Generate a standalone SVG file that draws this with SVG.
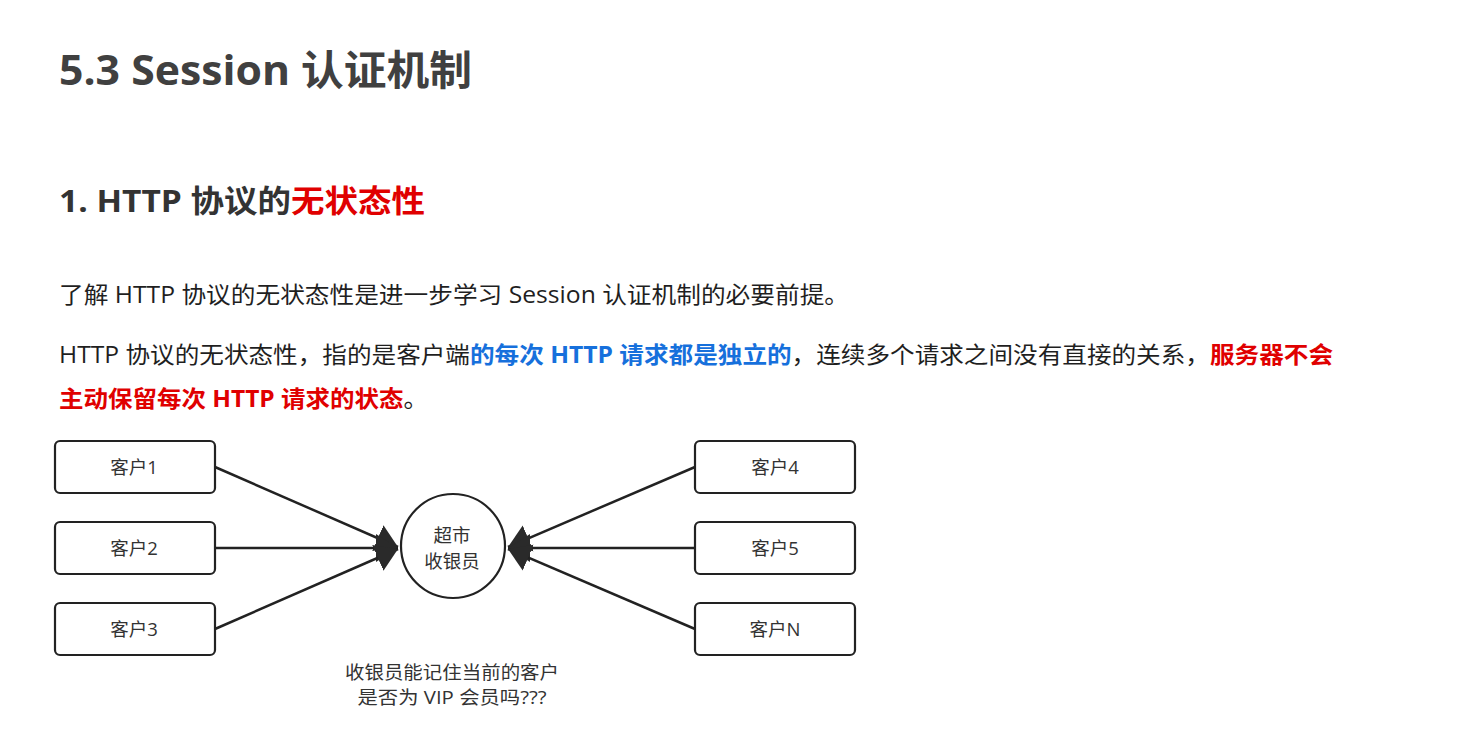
<svg xmlns="http://www.w3.org/2000/svg" width="1463" height="749" viewBox="0 0 1463 749">
<style>
.h1{font-family:"Open Sans","Noto Sans CJK SC",sans-serif;font-weight:700;font-size:41px;fill:#404040}
.h2{font-family:"Open Sans","Noto Sans CJK SC",sans-serif;font-weight:700;font-size:31px;fill:#333}
.p{font-family:"Open Sans","Noto Sans CJK SC",sans-serif;font-size:23px;fill:#1f1f1f}
.blue{fill:#1670dc;font-weight:700}
.red{fill:#e00000;font-weight:700}
.box{fill:#fff;stroke:#222;stroke-width:2.2}
.lbl{font-family:"Open Sans","Noto Sans CJK SC",sans-serif;font-size:18.5px;fill:#333;text-anchor:middle}
.cap{font-family:"Open Sans","Noto Sans CJK SC",sans-serif;font-size:18.5px;fill:#333;text-anchor:middle}
.edge{stroke:#222;stroke-width:2.5;fill:none;marker-end:url(#ah)}
</style>
<defs>
<marker id="ah" markerUnits="userSpaceOnUse" markerWidth="24" markerHeight="32" refX="22" refY="15" orient="auto">
<path d="M0,1 L22,15 L0,29 Z" fill="#2a2a2a"/>
</marker>
</defs>
<rect width="1463" height="749" fill="#fff"/>
<text class="h1" x="59" y="85" textLength="413" lengthAdjust="spacingAndGlyphs">5.3 Session 认证机制</text>
<text class="h2" x="59" y="212" textLength="366" lengthAdjust="spacingAndGlyphs">1. HTTP 协议的<tspan class="red">无状态性</tspan></text>
<text class="p" x="59" y="303" textLength="790" lengthAdjust="spacingAndGlyphs">了解 HTTP 协议的无状态性是进一步学习 Session 认证机制的必要前提。</text>
<text class="p" x="59" y="363" textLength="1274" lengthAdjust="spacingAndGlyphs">HTTP 协议的无状态性，指的是客户端<tspan class="blue">的每次 HTTP 请求都是独立的</tspan>，连续多个请求之间没有直接的关系，<tspan class="red">服务器不会</tspan></text>
<text class="p" x="59" y="407" textLength="369" lengthAdjust="spacingAndGlyphs"><tspan class="red">主动保留每次 HTTP 请求的状态</tspan>。</text>
<g id="connectors">
<line class="edge" x1="215" y1="467" x2="398" y2="547"/>
<line class="edge" x1="215" y1="548" x2="398" y2="548"/>
<line class="edge" x1="215" y1="629" x2="398" y2="549"/>
<line class="edge" x1="695" y1="467" x2="508" y2="547"/>
<line class="edge" x1="695" y1="548" x2="508" y2="548"/>
<line class="edge" x1="695" y1="629" x2="508" y2="549"/>
</g>
<g id="c1"><rect class="box" x="55" y="441" width="160" height="52" rx="5"/><text class="lbl" x="134" y="474">客户1</text></g>
<g id="c2"><rect class="box" x="55" y="522" width="160" height="52" rx="5"/><text class="lbl" x="134" y="555">客户2</text></g>
<g id="c3"><rect class="box" x="55" y="603" width="160" height="52" rx="5"/><text class="lbl" x="134" y="636">客户3</text></g>
<g id="c4"><rect class="box" x="695" y="441" width="160" height="52" rx="5"/><text class="lbl" x="775" y="474">客户4</text></g>
<g id="c5"><rect class="box" x="695" y="522" width="160" height="52" rx="5"/><text class="lbl" x="775" y="555">客户5</text></g>
<g id="cN"><rect class="box" x="695" y="603" width="160" height="52" rx="5"/><text class="lbl" x="775" y="636">客户N</text></g>
<g id="cashier"><circle cx="453" cy="546" r="52" fill="#fff" stroke="#222" stroke-width="2.2"/>
<text class="cap" x="452" y="542">超市</text><text class="cap" x="452" y="568">收银员</text></g>
<g id="caption"><text class="cap" x="452" y="679" textLength="214" lengthAdjust="spacingAndGlyphs">收银员能记住当前的客户</text><text class="cap" x="452" y="704" textLength="189" lengthAdjust="spacingAndGlyphs">是否为 VIP 会员吗???</text></g>
</svg>
